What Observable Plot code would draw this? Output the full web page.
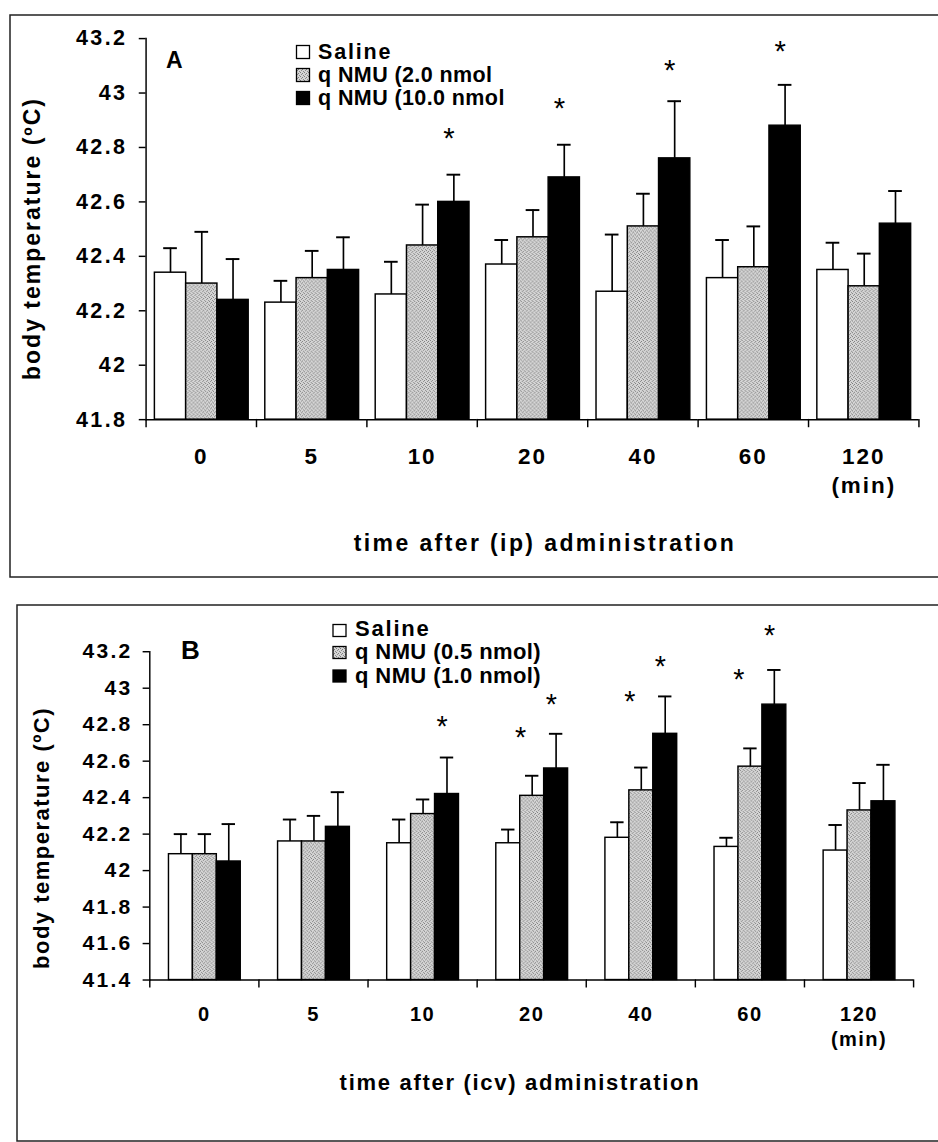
<!DOCTYPE html>
<html>
<head>
<meta charset="utf-8">
<script src="https://cdn.jsdelivr.net/npm/d3@7"></script>
<script src="https://cdn.jsdelivr.net/npm/@observablehq/plot@0.6"></script>
<style>
html, body { margin: 0; padding: 0; background: #fff; }
body { width: 938px; height: 1142px; overflow: hidden; position: relative;
       font-family: "Liberation Sans", Arial, sans-serif; }
.panel { position: absolute; left: 0; }
#overlay { position: absolute; left: 0; top: 0; }
#panelA g[aria-label="y-axis tick label"] text { letter-spacing: 2.5px; }
#panelA g[aria-label="fx-axis tick label"] text, #panelA .minl { letter-spacing: 2px; }
#panelB g[aria-label="y-axis tick label"] text { letter-spacing: 2.4px; }
#panelB g[aria-label="fx-axis tick label"] text, #panelB .minl { letter-spacing: 1.5px; }
#overlay text { font-family: "Liberation Sans", Arial, sans-serif; font-weight: bold; fill: #000; }
</style>
</head>
<body>
<svg width="0" height="0" style="position:absolute">
  <defs>
    <pattern id="dither" width="4" height="4" patternUnits="userSpaceOnUse">
      <rect width="4" height="4" fill="#d6d6d6"/>
      <rect x="0" y="0" width="1" height="1" fill="#7c7c7c"/>
      <rect x="2" y="1" width="1" height="1" fill="#7c7c7c"/>
      <rect x="1" y="2" width="1" height="1" fill="#8a8a8a"/>
      <rect x="3" y="3" width="1" height="1" fill="#8a8a8a"/>
    </pattern>
  </defs>
</svg>
<div id="panelA" class="panel" style="top:0px"></div>
<div id="panelB" class="panel" style="top:590px"></div>
<svg id="overlay" width="938" height="1142">
  <rect x="10" y="15" width="940" height="562" fill="none" stroke="#222" stroke-width="1.5"/>
  <rect x="17" y="605" width="940" height="536" fill="none" stroke="#222" stroke-width="1.5"/>
  <text x="166" y="68" font-size="23">A</text>
  <text x="181" y="659" font-size="26">B</text>
  <g id="legendA"></g>
  <g id="legendB"></g>
  <text id="ylabA" transform="translate(32,238.5) rotate(-90)" text-anchor="middle" dy="0.35em" font-size="23" style="letter-spacing:2px"></text>
  <text id="xlabA" x="545" y="551" text-anchor="middle" font-size="23" style="letter-spacing:2.4px"></text>
  <text id="ylabB" transform="translate(41,838) rotate(-90)" text-anchor="middle" dy="0.35em" font-size="22" style="letter-spacing:1.5px"></text>
  <text id="xlabB" x="520" y="1090" text-anchor="middle" font-size="22" style="letter-spacing:1.7px"></text>
</svg>
<script>
// ---------- data ----------
const times = ["0", "5", "10", "20", "40", "60", "120"];
const seriesKeys = ["saline", "low", "high"];
const seriesFills = ["white", "url(#dither)", "black"];

// Panel A (ip)
const legendA = ["Saline", "q NMU (2.0 nmol", "q NMU (10.0 nmol"];
const salineA = [42.34, 42.23, 42.26, 42.37, 42.27, 42.32, 42.35];
const salineSemA = [0.09, 0.08, 0.12, 0.09, 0.21, 0.14, 0.10];
const lowA = [42.30, 42.32, 42.44, 42.47, 42.51, 42.36, 42.29];
const lowSemA = [0.19, 0.10, 0.15, 0.10, 0.12, 0.15, 0.12];
const highA = [42.24, 42.35, 42.60, 42.69, 42.76, 42.88, 42.52];
const highSemA = [0.15, 0.12, 0.10, 0.12, 0.21, 0.15, 0.12];
const starsA = [
  {time: "10", series: "high", y: 42.86},
  {time: "20", series: "high", y: 42.97},
  {time: "40", series: "high", y: 43.11},
  {time: "60", series: "high", y: 43.18}
];
const yTicksA = [41.8, 42, 42.2, 42.4, 42.6, 42.8, 43, 43.2];

// Panel B (icv)
const legendB = ["Saline", "q NMU (0.5 nmol)", "q NMU (1.0 nmol)"];
const salineB = [42.09, 42.16, 42.15, 42.15, 42.18, 42.13, 42.11];
const salineSemB = [0.11, 0.12, 0.13, 0.075, 0.085, 0.05, 0.14];
const lowB = [42.09, 42.16, 42.31, 42.41, 42.44, 42.57, 42.33];
const lowSemB = [0.11, 0.14, 0.08, 0.11, 0.125, 0.10, 0.15];
const highB = [42.05, 42.24, 42.42, 42.56, 42.75, 42.91, 42.38];
const highSemB = [0.205, 0.19, 0.20, 0.19, 0.205, 0.19, 0.20];
const starsB = [
  {time: "10", series: "high", y: 42.83},
  {time: "20", series: "low", y: 42.77},
  {time: "20", series: "high", y: 42.95},
  {time: "40", series: "low", y: 42.97},
  {time: "40", series: "high", y: 43.16},
  {time: "60", series: "low", y: 43.09},
  {time: "60", series: "high", y: 43.33}
];
const yTicksB = [41.4, 41.6, 41.8, 42, 42.2, 42.4, 42.6, 42.8, 43, 43.2];

const yLabel = "body temperature (ºC)";
const xLabelA = "time after (ip) administration";
const xLabelB = "time after (icv) administration";
const unitLabel = "(min)";

// ---------- build ----------
function table(means, sems) {
  return times.flatMap((t, i) => seriesKeys.map((s, j) => ({time: t, series: s, mean: means[j][i], sem: sems[j][i]})));
}
const dataA = table([salineA, lowA, highA], [salineSemA, lowSemA, highSemA]);
const dataB = table([salineB, lowB, highB], [salineSemB, lowSemB, highSemB]);

function panel(o) {
  const innerH = o.height - o.marginTop - o.marginBottom;
  const y0 = o.yTicks[0], y1 = o.yTicks[o.yTicks.length - 1];
  const star = {fx: "time", x: "series", y: "y", text: () => "*", fontSize: o.starSize, fontWeight: "normal", dy: o.starDy};
  return Plot.plot({
    width: o.width, height: o.height,
    marginTop: o.marginTop, marginBottom: o.marginBottom, marginLeft: o.marginLeft, marginRight: o.marginRight,
    style: {fontFamily: '"Liberation Sans", Arial, sans-serif', color: "black", background: "transparent", overflow: "visible"},
    fx: {domain: times, padding: 0, label: null},
    x: {domain: seriesKeys, paddingInner: 0, paddingOuter: o.padOuter, axis: null},
    y: {domain: [y0, y1]},
    color: {domain: seriesKeys, range: seriesFills},
    marks: [
      Plot.barY(o.data, {fx: "time", x: "series", y1: y0, y2: "mean", fill: "series", stroke: "black", strokeWidth: 1.5}),
      Plot.ruleX(o.data, {fx: "time", x: "series", y1: "mean", y2: d => d.mean + d.sem, stroke: "black", strokeWidth: 1.7}),
      Plot.tickY(o.data, {fx: "time", x: "series", y: d => d.mean + d.sem, insetLeft: o.capInset, insetRight: o.capInset, stroke: "black", strokeWidth: 2}),
      Plot.ruleY([y0], {stroke: "black", strokeWidth: 1.5}),
      Plot.frame({anchor: "left", facetAnchor: "left", stroke: "black", strokeWidth: 1.5}),
      Plot.frame({anchor: "left", insetTop: innerH, insetBottom: -7, stroke: "black", strokeWidth: 1.5}),
      Plot.frame({anchor: "right", facetAnchor: "right", insetTop: innerH, insetBottom: -7, stroke: "black", strokeWidth: 1.5}),
      Plot.axisY({ticks: o.yTicks, tickSize: 7, tickPadding: o.yPad, tickFormat: d => String(d), fontSize: o.yFont, fontWeight: "bold", label: null, facetAnchor: "left", strokeWidth: 1.5}),
      Plot.axisFx({anchor: "bottom", tickSize: 0, tickPadding: o.xPad, fontSize: o.xFont, fontWeight: "bold", label: null}),
      Plot.text([unitLabel], {fx: () => times[times.length - 1], text: d => d, frameAnchor: "bottom", dy: o.minDy, lineAnchor: "middle", fontSize: o.xFont, fontWeight: "bold", className: "minl"}),
      Plot.text(o.stars.filter(d => d.series === "low"), {...star, dx: -12}),
      Plot.text(o.stars.filter(d => d.series === "high"), {...star, dx: -5})
    ]
  });
}

document.getElementById("panelA").append(panel({
  data: dataA, stars: starsA, yTicks: yTicksA,
  width: 960, height: 590, marginTop: 39, marginBottom: 161, marginLeft: 147, marginRight: 18.5,
  padOuter: 0.22, capInset: 9, yPad: 12, xPad: 29, yFont: 22, xFont: 23, minDy: 68, starSize: 30, starDy: 8
}));
document.getElementById("panelB").append(panel({
  data: dataB, stars: starsB, yTicks: yTicksB,
  width: 980, height: 552, marginTop: 64, marginBottom: 145, marginLeft: 153, marginRight: 24,
  padOuter: 0.705, capInset: 5.5, yPad: 11, xPad: 28, yFont: 22, xFont: 21, minDy: 62, starSize: 30, starDy: 8
}));

// ---------- overlay text (legends, axis titles) ----------
const NS = "http://www.w3.org/2000/svg";
function legend(id, labels, x, rowsTop, sw, sh, textX, baselines, fontSize) {
  const g = document.getElementById(id);
  labels.forEach((lab, i) => {
    const r = document.createElementNS(NS, "rect");
    r.setAttribute("x", x); r.setAttribute("y", rowsTop[i]);
    r.setAttribute("width", sw); r.setAttribute("height", sh);
    r.setAttribute("fill", seriesFills[i]); r.setAttribute("stroke", "black"); r.setAttribute("stroke-width", 1.3);
    g.append(r);
    const t = document.createElementNS(NS, "text");
    t.setAttribute("x", textX); t.setAttribute("y", baselines[i]);
    t.setAttribute("font-size", fontSize);
    t.setAttribute("style", "letter-spacing:" + (i === 0 ? 1.8 : 0.4) + "px");
    t.textContent = lab;
    g.append(t);
  });
}
legend("legendA", legendA, 296.5, [45.5, 68.5, 91.5], 13, 13, 318, [58.5, 81.5, 104.5], 21.5);
legend("legendB", legendB, 333, [624.5, 646.5, 670], 13, 12, 355, [636, 659, 683], 22);
document.getElementById("ylabA").textContent = yLabel;
document.getElementById("ylabB").textContent = yLabel;
document.getElementById("xlabA").textContent = xLabelA;
document.getElementById("xlabB").textContent = xLabelB;
</script>
</body>
</html>
